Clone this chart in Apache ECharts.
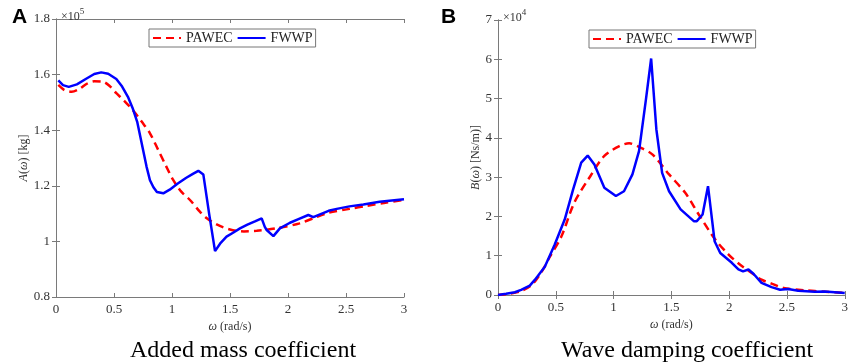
<!DOCTYPE html>
<html>
<head>
<meta charset="utf-8">
<script src="https://cdn.jsdelivr.net/npm/echarts@6/dist/echarts.min.js"></script>
<style>
  html, body { margin: 0; padding: 0; background: #fff; }
  #chart { width: 851px; height: 362px; }
</style>
</head>
<body>
<div id="chart"></div>
<script>
// A: added mass coefficient (×1e5 kg), B: wave damping coefficient (×1e4 Ns/m)
const aPawecX = [0.02,0.07,0.135,0.2,0.27,0.33,0.40,0.46,0.52,0.59,0.667,0.74,0.81,0.88,0.95,1.01,1.08,1.155,1.24,1.30,1.385,1.5,1.62,1.73,1.9,2.1,2.24,2.35,2.53,2.68,2.84,3.0];
const aPawecY = [1.563,1.545,1.538,1.548,1.568,1.576,1.575,1.560,1.533,1.505,1.470,1.43,1.389,1.33,1.27,1.221,1.179,1.149,1.107,1.083,1.061,1.043,1.036,1.038,1.047,1.065,1.087,1.103,1.117,1.128,1.139,1.149];

const aFwwpX = [0.02,0.06,0.11,0.18,0.26,0.33,0.39,0.45,0.52,0.57,0.62,0.66,0.70,0.74,0.78,0.81,0.84,0.87,0.925,0.98,1.05,1.12,1.18,1.227,1.27,1.32,1.371,1.42,1.47,1.53,1.586,1.65,1.72,1.773,1.80,1.816,1.874,1.93,2.017,2.09,2.175,2.218,2.35,2.42,2.53,2.65,2.79,3.0];
const aFwwpY = [1.579,1.562,1.556,1.565,1.585,1.602,1.608,1.603,1.584,1.557,1.52,1.48,1.43,1.35,1.27,1.22,1.195,1.178,1.173,1.186,1.208,1.228,1.243,1.254,1.241,1.10,0.965,0.995,1.017,1.032,1.047,1.060,1.073,1.083,1.052,1.041,1.019,1.047,1.067,1.080,1.095,1.087,1.110,1.117,1.126,1.133,1.143,1.152];

const bPawecX = [0,0.1,0.2,0.3,0.38,0.45,0.55,0.66,0.80,0.92,1.05,1.135,1.22,1.335,1.48,1.62,1.737,1.88,1.995,2.095,2.195,2.28,2.367,2.47,2.65,2.83,3.0];
const bPawecY = [0,0.03,0.1,0.28,0.6,0.98,1.5,2.35,3.03,3.54,3.79,3.86,3.77,3.58,3.07,2.6,2.05,1.41,1.03,0.77,0.56,0.39,0.29,0.18,0.12,0.085,0.05];

const bFwwpX = [0,0.07,0.146,0.2,0.275,0.32,0.405,0.49,0.577,0.65,0.72,0.776,0.834,0.92,1.02,1.09,1.163,1.22,1.28,1.325,1.37,1.42,1.48,1.58,1.694,1.72,1.77,1.817,1.874,1.923,2.023,2.08,2.12,2.167,2.21,2.28,2.367,2.44,2.51,2.597,2.74,2.826,3.0];
const bFwwpY = [0,0.03,0.07,0.13,0.24,0.39,0.72,1.28,1.92,2.69,3.37,3.55,3.32,2.73,2.52,2.64,3.07,3.66,4.98,6.02,4.22,3.11,2.64,2.18,1.88,1.88,2.05,2.77,1.37,1.07,0.82,0.65,0.6,0.65,0.54,0.31,0.2,0.135,0.15,0.11,0.085,0.09,0.05];

const xTicks = ["0","0.5","1","1.5","2","2.5","3"];

const SERIF = "'Liberation Serif', 'Times New Roman', serif";
const RED = "#ff0000";
const BLUE = "#0000ff";
const AXIS = "#7a7a7a";
const LABEL = "#333";

const zip = (xs, ys) => xs.map((x, i) => [x, ys[i]]);

function xAxes(grid) {
  const base = {
    gridIndex: grid, type: "value", min: 0, max: 3, interval: 0.5,
    axisLine: { lineStyle: { color: AXIS, width: 1 } },
    axisTick: { inside: true, length: 4, lineStyle: { color: AXIS } },
    splitLine: { show: false },
  };
  return [
    { ...base, position: "bottom",
      name: "{i|ω} (rad/s)", nameLocation: "middle", nameGap: 20,
      nameTextStyle: { fontFamily: SERIF, fontSize: 12, color: LABEL,
        rich: { i: { fontFamily: SERIF, fontStyle: "italic", fontSize: 12, color: LABEL } } },
      axisLabel: { fontFamily: SERIF, fontSize: 13, color: LABEL, margin: 6,
        formatter: v => xTicks[Math.round(v / 0.5)] } },
    { ...base, position: "top", axisLabel: { show: false } },
  ];
}

function yAxes(grid, min, max, interval, name, gap, fmt) {
  const base = {
    gridIndex: grid, type: "value", min, max, interval,
    axisLine: { show: true, lineStyle: { color: AXIS, width: 1 } },
    axisTick: { show: true, inside: true, length: 4, lineStyle: { color: AXIS } },
    splitLine: { show: false },
  };
  return [
    { ...base, position: "left",
      name, nameLocation: "middle", nameGap: gap,
      nameTextStyle: { fontFamily: SERIF, fontSize: 12, color: LABEL,
        rich: { i: { fontFamily: SERIF, fontStyle: "italic", fontSize: 12, color: LABEL } } },
      axisLabel: { fontFamily: SERIF, fontSize: 13, color: LABEL, margin: 6, formatter: fmt } },
    { ...base, position: "right", axisLabel: { show: false } },
  ];
}

const lineRed = (x, y, xi, yi) => ({
  name: "PAWEC", type: "line", xAxisIndex: xi, yAxisIndex: yi,
  data: zip(x, y), symbol: "none", smooth: 0.3,
  lineStyle: { color: RED, width: 2.5, type: [8, 5] }, itemStyle: { color: RED }, z: 3,
});
const lineBlue = (x, y, xi, yi) => ({
  name: "FWWP", type: "line", xAxisIndex: xi, yAxisIndex: yi,
  data: zip(x, y), symbol: "none",
  lineStyle: { color: BLUE, width: 2.5 }, itemStyle: { color: BLUE }, z: 4,
});

const legendBase = {
  data: ["PAWEC", "FWWP"], orient: "horizontal",
  backgroundColor: "#fff", borderColor: "#777", borderWidth: 1,
  padding: [2, 3], itemGap: 4, itemWidth: 28, itemHeight: 10,
  itemStyle: { opacity: 0 },
  textStyle: { fontFamily: SERIF, fontSize: 14, color: "#222" },
  selectedMode: false,
};

const chart = echarts.init(document.getElementById("chart"), null, { renderer: "canvas" });
chart.setOption({
  animation: false,
  backgroundColor: "#fff",
  title: [
    { text: "A", left: 7, top: 2, textStyle: { fontFamily: "'Liberation Sans', Arial, sans-serif", fontSize: 21, fontWeight: "bold", color: "#000" } },
    { text: "B", left: 436, top: 2, textStyle: { fontFamily: "'Liberation Sans', Arial, sans-serif", fontSize: 21, fontWeight: "bold", color: "#000" } },
    { text: "{a|×10}{b|5}", left: 56, top: 0,
      textStyle: { rich: { a: { fontFamily: SERIF, fontSize: 12, fontWeight: "normal", color: LABEL, padding: [6, 0, 0, 0] }, b: { fontFamily: SERIF, fontSize: 9, fontWeight: "normal", color: LABEL, padding: [0, 0, 4, 0] } } } },
    { text: "{a|×10}{b|4}", left: 498, top: 1,
      textStyle: { rich: { a: { fontFamily: SERIF, fontSize: 12, fontWeight: "normal", color: LABEL, padding: [6, 0, 0, 0] }, b: { fontFamily: SERIF, fontSize: 9, fontWeight: "normal", color: LABEL, padding: [0, 0, 4, 0] } } } },
    { text: "Added mass coefficient", left: 238, top: 334, textAlign: "center",
      textStyle: { fontFamily: SERIF, fontSize: 24, fontWeight: "normal", color: "#000" } },
    { text: "Wave damping coefficient", left: 682, top: 334, textAlign: "center",
      textStyle: { fontFamily: SERIF, fontSize: 24, fontWeight: "normal", color: "#000" } },
  ],
  legend: [
    { ...legendBase, left: 149, top: 29 },
    { ...legendBase, left: 589, top: 30 },
  ],
  grid: [
    { left: 56, right: 447, top: 19, height: 278 },
    { left: 498, right: 5, top: 20, height: 275 },
  ],
  xAxis: [...xAxes(0), ...xAxes(1)],
  yAxis: [
    ...yAxes(0, 0.8, 1.8, 0.2, "{i|A}({i|ω}) [kg]", 24, v => +v.toFixed(1) + ""),
    ...yAxes(1, 0, 7, 1, "{i|B}({i|ω}) [Ns/m)]", 10, v => v + ""),
  ],
  series: [
    lineRed(aPawecX, aPawecY, 0, 0),
    lineBlue(aFwwpX, aFwwpY, 0, 0),
    lineRed(bPawecX, bPawecY, 2, 2),
    lineBlue(bFwwpX, bFwwpY, 2, 2),
  ],
});
</script>
</body>
</html>
